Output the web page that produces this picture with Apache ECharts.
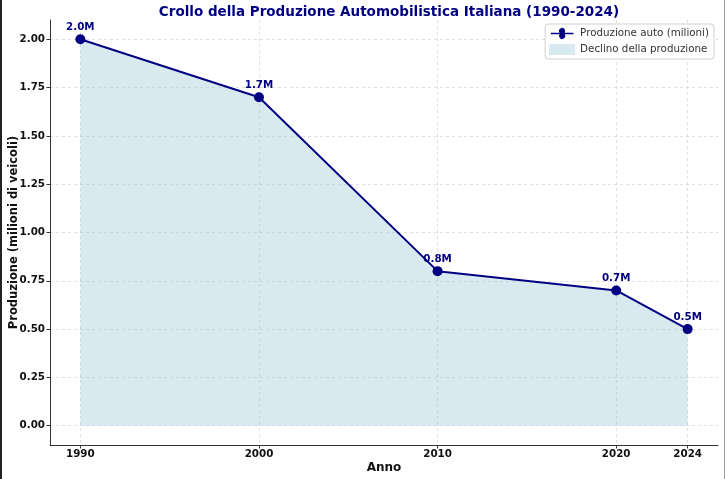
<!DOCTYPE html>
<html>
<head>
<meta charset="utf-8">
<script src="https://cdn.jsdelivr.net/npm/echarts@6/dist/echarts.min.js"></script>
<style>
html,body{margin:0;padding:0;background:#fff;}
#wrap{position:relative;width:725px;height:479px;box-sizing:border-box;border-left:2px solid #222;border-right:1px solid #999;overflow:hidden;}
#chart{position:absolute;left:-2px;top:0;width:725px;height:479px;}
</style>
</head>
<body>
<div id="wrap"><div id="chart"></div></div>
<script>
const years = [1990, 2000, 2010, 2020, 2024];
const production = [2.0, 1.7, 0.8, 0.7, 0.5];
const pointLabels = ['2.0M', '1.7M', '0.8M', '0.7M', '0.5M'];
const xTicks = [1990, 2000, 2010, 2020, 2024];
const yTicks = [0, 0.25, 0.5, 0.75, 1.0, 1.25, 1.5, 1.75, 2.0];

const navy = '#000080';
const font = 'DejaVu Sans';
const pts = years.map((y, i) => [y, production[i]]);

const chart = echarts.init(document.getElementById('chart'), null, {renderer: 'canvas'});
chart.setOption({
  animation: false,
  backgroundColor: '#fff',
  textStyle: {fontFamily: font},
  title: {
    text: 'Crollo della Produzione Automobilistica Italiana (1990-2024)',
    left: 384, top: 0, textAlign: 'center',
    textStyle: {color: navy, fontSize: 13.5, fontWeight: 'bold', fontFamily: font}
  },
  legend: {
    right: 11, top: 24, orient: 'vertical',
    backgroundColor: 'rgba(255,255,255,0.85)',
    borderColor: '#d0d0d0', borderWidth: 1, borderRadius: 3,
    padding: [4, 5, 4, 4], itemGap: 5, itemWidth: 26, itemHeight: 11,
    textStyle: {fontSize: 10.3, color: '#333', fontFamily: font},
    data: [
      {name: 'Produzione auto (milioni)', icon: 'path://M0,5 L10,5 A3.5,3.5 0 1 1 16,5 L26,5 L26,7 L16,7 A3.5,3.5 0 1 1 10,7 L0,7 Z'},
      {name: 'Declino della produzione', icon: 'rect'}
    ]
  },
  grid: {left: 50, right: 7, top: 20, bottom: 34, containLabel: false, outerBoundsMode: 'none'},
  xAxis: {
    type: 'value', min: 1988.3, max: 2025.7,
    name: 'Anno', nameLocation: 'middle', nameGap: 17, nameMoveOverlap: false,
    nameTextStyle: {fontSize: 12, fontWeight: 'bold', color: '#111', fontFamily: font},
    axisLine: {show: true, onZero: false, lineStyle: {color: '#333', width: 1}},
    axisTick: {show: true, length: 3.5, inside: false, customValues: xTicks, lineStyle: {color: '#333'}},
    axisLabel: {customValues: xTicks, fontSize: 10.3, fontWeight: 'bold', color: '#111', margin: 4,
      formatter: v => String(v), fontFamily: font},
    splitLine: {show: true, lineStyle: {color: '#d8d8d8', type: [3, 3], width: 0.8}}
  },
  yAxis: {
    type: 'value', min: -0.1, max: 2.1,
    name: 'Produzione (milioni di veicoli)', nameLocation: 'middle', nameGap: 30, nameMoveOverlap: false,
    nameTextStyle: {fontSize: 11.5, fontWeight: 'bold', color: '#111', fontFamily: font},
    axisLine: {show: true, lineStyle: {color: '#333', width: 1}},
    axisTick: {show: true, length: 3.5, customValues: yTicks, lineStyle: {color: '#333'}},
    axisLabel: {customValues: yTicks, fontSize: 10.3, fontWeight: 'bold', color: '#111', margin: 5,
      formatter: v => v.toFixed(2), fontFamily: font},
    splitLine: {show: true, lineStyle: {color: '#d8d8d8', type: [3, 3], width: 0.8}}
  },
  series: [
    {
      name: 'Declino della produzione', type: 'line', data: pts,
      symbol: 'none', lineStyle: {width: 0, opacity: 0},
      itemStyle: {color: 'rgba(158,200,218,0.4)'},
      areaStyle: {color: 'rgba(158,200,218,0.4)', opacity: 1, origin: 'auto'},
      z: 1, silent: true
    },
    {
      name: 'Produzione auto (milioni)', type: 'line', data: pts,
      symbol: 'circle', symbolSize: 10,
      lineStyle: {color: navy, width: 2},
      itemStyle: {color: navy},
      label: {
        show: true, position: 'top', distance: 2,
        formatter: p => pointLabels[p.dataIndex],
        color: navy, fontSize: 10.3, fontWeight: 'bold', fontFamily: font
      },
      z: 3
    }
  ]
});
</script>
</body>
</html>
